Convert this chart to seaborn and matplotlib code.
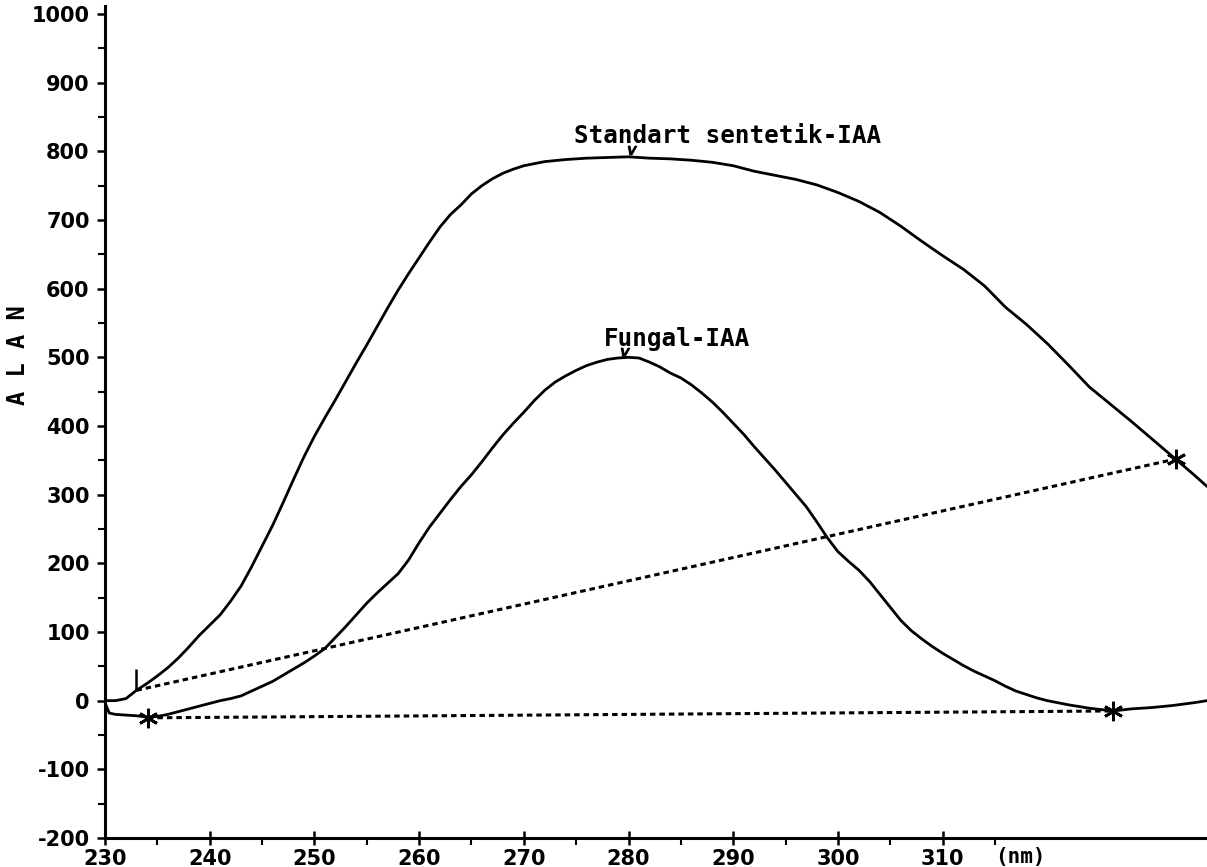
import numpy as np
import pandas as pd
import matplotlib
matplotlib.use("Agg")
import matplotlib.pyplot as plt
import seaborn as sns

sns.set_theme(style="white")
plt.rcParams['font.family'] = ['DejaVu Sans', 'DejaVu Sans Mono']
plt.rcParams['text.color'] = 'black'

# ---- data ----
std_nm = [230, 231, 232, 233, 234, 235, 236, 237, 238, 239, 240, 241, 242, 243, 244,
          245, 246, 247, 248, 249, 250, 251, 252, 253, 254, 255, 256, 257, 258, 259,
          260, 261, 262, 263, 264, 265, 266, 267, 268, 269, 270, 272, 274, 276, 278,
          280, 282, 284, 286, 288, 290, 292, 294, 296, 298, 300, 302, 304, 306, 308,
          310, 312, 314, 316, 318, 320, 322, 324, 326, 328, 330, 332, 334, 335.25]
std_val = [0, 0, 3, 15, 25, 36, 48, 62, 78, 95, 110, 125, 145, 167, 195,
           225, 255, 288, 322, 355, 385, 412, 438, 465, 492, 518, 545, 572, 598, 622,
           645, 668, 690, 708, 722, 738, 750, 760, 768, 774, 779, 785, 788, 790, 791,
           792, 790, 789, 787, 784, 779, 771, 765, 759, 751, 740, 727, 711, 691, 669,
           648, 628, 604, 573, 548, 520, 489, 457, 432, 407, 381, 355, 329, 312]

fun_nm = [230, 230.4, 231, 232, 233, 234, 235, 236, 237, 238, 239, 240, 241, 242, 243,
          244, 245, 246, 247, 248, 249, 250, 251, 252, 253, 254, 255, 256, 257, 258,
          259, 260, 261, 262, 263, 264, 265, 266, 267, 268, 269, 270, 271, 272, 273,
          274, 275, 276, 277, 278, 279, 280, 281, 282, 283, 284, 285, 286, 287, 288,
          289, 290, 291, 292, 293, 294, 295, 296, 297, 298, 299, 300, 301, 302, 303,
          304, 305, 306, 307, 308, 309, 310, 311, 312, 313, 314, 315, 316, 317, 318,
          319, 320, 322, 324, 326.3, 328, 330, 332, 334, 335.25]
fun_val = [-3, -18, -20, -21, -22, -24, -23, -20, -16, -12, -8, -4, 0, 3, 7,
           14, 21, 28, 37, 46, 55, 65, 76, 92, 108, 125, 142, 157, 171, 185,
           205, 230, 253, 273, 293, 312, 329, 348, 368, 387, 404, 420, 437, 452, 464,
           473, 481, 488, 493, 497, 499, 500, 499, 493, 486, 477, 470, 460, 448, 435,
           420, 404, 388, 370, 353, 336, 318, 300, 282, 260, 237, 217, 203, 190, 174,
           155, 136, 117, 102, 90, 79, 69, 60, 51, 43, 36, 29, 21, 14, 9,
           4, 0, -6, -11, -15, -12, -10, -7, -3, 0]

upper_base_nm = [233.0, 332.3]
upper_base_val = [15, 352]
lower_base_nm = [234.1, 326.3]
lower_base_val = [-25, -15]

std_peak = (280.3, 802)
fun_peak = (279.7, 508)
labels = ["Standart sentetik-IAA", "Fungal-IAA"]
label_pos = [(289.5, 823), (284.6, 526)]

x_major = [230, 240, 250, 260, 270, 280, 290, 300, 310]
x_minor = [235, 245, 255, 265, 275, 285, 295, 305, 315]
y_major = list(range(-200, 1001, 100))
y_minor = list(range(-150, 1000, 100))
x_unit = "(nm)"
y_title = "A L A N"

# ---- figure ----
fig = plt.figure(figsize=(12.07, 8.67), dpi=100)
ax = fig.add_axes([0.087, 0.03345, 0.913, 0.95963])
ax.set_facecolor("white")

std_df = pd.DataFrame({"nm": std_nm, "v": std_val})
fun_df = pd.DataFrame({"nm": fun_nm, "v": fun_val})
sns.lineplot(data=std_df, x="nm", y="v", ax=ax, color="black", lw=2.0,
             estimator=None, sort=False, zorder=3)
sns.lineplot(data=fun_df, x="nm", y="v", ax=ax, color="black", lw=2.0,
             estimator=None, sort=False, zorder=3)

dot = (0, (1.8, 1.3))
ax.plot(upper_base_nm, upper_base_val, color="black", lw=2.2, ls=dot, zorder=3)
ax.plot(lower_base_nm, lower_base_val, color="black", lw=2.2, ls=dot, zorder=3)

# baseline end markers
ast = (6, 2, 0)
ax.plot([upper_base_nm[1]], [upper_base_val[1]], marker=ast, ms=14, mew=2,
        color="black", ls="none", zorder=4)
ax.plot([lower_base_nm[0], lower_base_nm[1]], [lower_base_val[0], lower_base_val[1]],
        marker=ast, ms=14, mew=2, color="black", ls="none", zorder=4)
ax.plot([upper_base_nm[0]], [upper_base_val[0]], marker=2, ms=15, mew=1.8,
        color="black", ls="none", zorder=4)

# peak markers
for (px, py) in [std_peak, fun_peak]:
    ax.plot([px], [py], marker="$v$", ms=6, color="black", ls="none", zorder=4)

for txt, (tx, ty) in zip(labels, label_pos):
    ax.text(tx, ty, txt, ha="center", va="center", fontsize=17.5,
            fontweight="bold", family="DejaVu Sans Mono", color="black")

ax.set_xlim(230, 335.25)
ax.set_ylim(-200, 1011.6)
ax.set_xticks(x_major)
ax.set_xticks(x_minor, minor=True)
ax.set_yticks(y_major)
ax.set_yticks(y_minor, minor=True)
ax.set_xticklabels([str(v) for v in x_major])
ax.set_yticklabels([str(v) for v in y_major])

for lab in ax.get_xticklabels() + ax.get_yticklabels():
    lab.set_fontweight("bold")
    lab.set_fontsize(15)
    lab.set_color("black")

ax.tick_params(axis="y", which="major", direction="out", length=6, width=1.8,
               pad=5, color="black", labelcolor="black", left=True)
ax.tick_params(axis="y", which="minor", direction="out", length=5, width=1.5,
               color="black", left=True)
ax.tick_params(axis="x", which="major", direction="inout", length=10, width=1.8,
               pad=3, color="black", labelcolor="black", bottom=True)
ax.tick_params(axis="x", which="minor", direction="out", length=5, width=1.5,
               color="black", bottom=True)

sns.despine(ax=ax, top=True, right=True)
for s in ["left", "bottom"]:
    ax.spines[s].set_color("black")
    ax.spines[s].set_linewidth(2.2)
ax.set_xlabel("")
ax.set_ylabel("")

ax.annotate(x_unit, xy=(317.4, 0), xycoords=("data", "axes fraction"),
            xytext=(0, -14), textcoords="offset points", ha="center", va="center",
            fontsize=15, fontweight="bold", family="DejaVu Sans Mono", color="black")

fig.text(18 / 1207, 1 - 355 / 867, y_title, rotation=90, ha="center", va="center",
         fontsize=17, fontweight="bold", family="DejaVu Sans Mono", color="black")

fig.savefig("out.png", dpi=100, facecolor="white")
